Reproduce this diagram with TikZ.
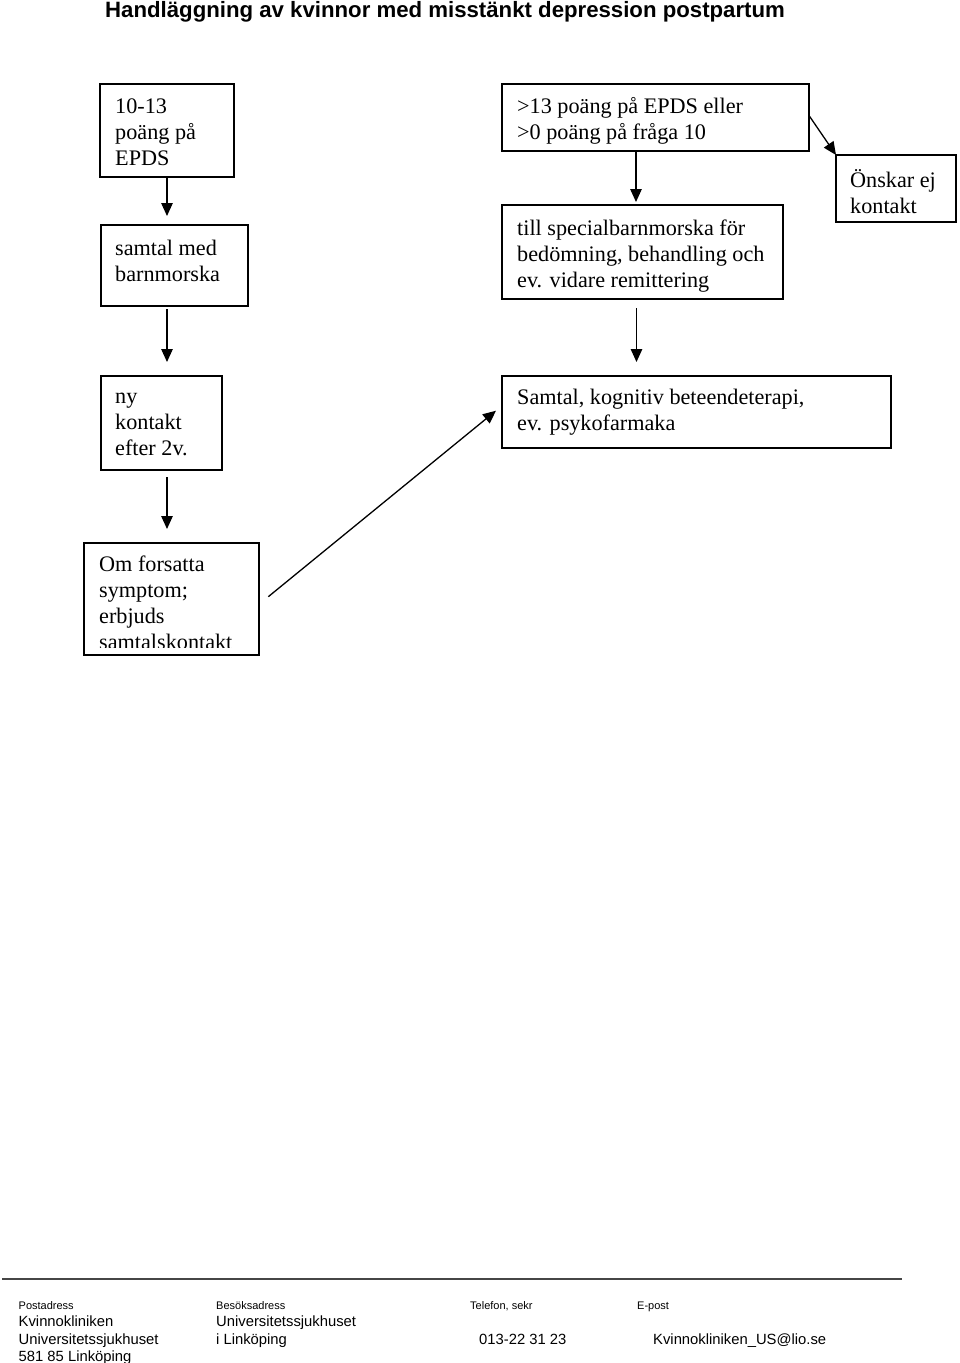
\documentclass[tikz,border=0pt]{standalone}
\usepackage{fontspec}
\setmainfont{Liberation Serif}
\newfontfamily\sansf{Liberation Sans}
\usetikzlibrary{arrows.meta,calc}
\newcommand\tstrut{\rule{0pt}{21pt}}
\begin{document}
\begin{tikzpicture}[x=1pt,y=-1pt,
  box/.style={draw=black, line width=1.6pt, anchor=north west, inner sep=0pt, outer sep=0pt},
  txt/.style={anchor=north west, inner sep=0pt, align=left, font=\fontsize{22.2}{26}\selectfont},
  arr/.style={line width=1.3pt, -{Triangle[length=13pt,width=11.5pt]}},
  foot/.style={anchor=base west, inner sep=0pt, font=\sansf\fontsize{14.8}{17}\selectfont},
  flab/.style={anchor=base west, inner sep=0pt, font=\sansf\fontsize{11}{13}\selectfont}
]
\useasboundingbox (0,0) rectangle (960,1363);
\fill[white] (0,0) rectangle (960,1363);

% title
\node[anchor=base west, inner sep=0pt, font=\sansf\bfseries\fontsize{22.2}{26}\selectfont] (title) at (105,17.5) {Handläggning av kvinnor med misstänkt depression postpartum};

% boxes
\node[box, minimum width=134pt, minimum height=93pt] (b1) at (100,84) {};
\node[box, minimum width=147pt, minimum height=81pt] (b2) at (101,225) {};
\node[box, minimum width=121pt, minimum height=94pt] (ny) at (101,376) {};
\node[box, minimum width=175pt, minimum height=112pt] (om) at (84,543) {};
\node[box, minimum width=307pt, minimum height=67pt] (g1) at (502,84) {};
\node[box, minimum width=281pt, minimum height=94pt] (g2) at (502,205) {};
\node[box, minimum width=120pt, minimum height=67pt] (on) at (836,155) {};
\node[box, minimum width=389pt, minimum height=72pt] (sam) at (502,376) {};

% texts
\node[txt] (t1) at (115,92.3) {\tstrut 10-13\\poäng på\\EPDS};
\node[txt] (t2) at (115,234.3) {\tstrut samtal med\\barnmorska};
\node[txt] (t3) at (115,382.5) {\tstrut ny\\kontakt\\efter 2v.};
\begin{scope}
  \clip (84,543) rectangle (259,647);
  \node[txt] (t4) at (99,550.7) {\tstrut Om forsatta\\symptom;\\erbjuds\\samtalskontakt};
\end{scope}
\node[txt] (t5) at (517,92.3) {\tstrut >13 poäng på EPDS eller\\>0 poäng på fråga 10};
\node[txt] (t6) at (517,214.5) {\tstrut till specialbarnmorska för\\bedömning, behandling och\\ev. vidare remittering};
\node[txt] (t7) at (850,166.3) {\tstrut Önskar ej\\kontakt};
\node[txt] (t8) at (517,383.3) {\tstrut Samtal, kognitiv beteendeterapi,\\ev. psykofarmaka};

% connectors
\draw[arr] (b1.south) -- ($(b1.south |- b2.north)+(0,-9)$);
\draw[arr] ($(b1.south |- b2.south)+(0,3)$) -- ($(b1.south |- ny.north)+(0,-14)$);
\draw[arr] ($(b1.south |- ny.south)+(0,7)$) -- ($(b1.south |- om.north)+(0,-14)$);
\draw[arr] ($(g1.south west)+(134,0)$) -- ($(g2.north west)+(134,-3)$);
\draw[arr] ($(g2.south west)+(134.5,9)$) -- ($(sam.north west)+(134.5,-14)$);
\draw[arr] ($(g1.east)+(0,-2)$) -- (on.north west);
\draw[arr] ($(om.east)+(9.3,-2.3)$) -- ($(sam.west)+(-6,-1.3)$);

% footer
\draw[gray!55!black, line width=1.4pt] (2,1279) -- (902,1279);
\node[flab] (l1) at (18.5,1309) {Postadress};
\node[flab] (l2) at (216,1309) {Besöksadress};
\node[flab] (l3) at (470,1309) {Telefon, sekr};
\node[flab] (l4) at (637,1309) {E-post};
\node[foot] (f1) at (18.5,1326.5) {Kvinnokliniken};
\node[foot] (f2) at (18.5,1344) {Universitetssjukhuset};
\node[foot] (f3) at (18.5,1361.5) {581 85 Linköping};
\node[foot] (f4) at (216,1326.5) {Universitetssjukhuset};
\node[foot] (f5) at (216,1344) {i Linköping};
\node[foot] (f6) at (479,1344) {013-22 31 23};
\node[foot] (f7) at (653,1344) {Kvinnokliniken\_US@lio.se};
\end{tikzpicture}
\end{document}
